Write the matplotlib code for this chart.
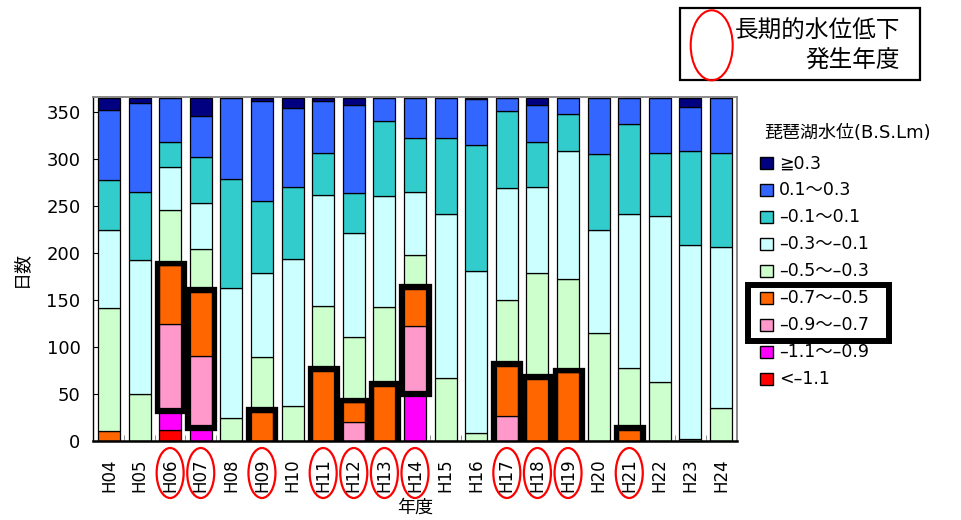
import matplotlib
matplotlib.use('Agg')
import matplotlib.pyplot as plt
import numpy as np
from matplotlib.patches import Rectangle, Ellipse

plt.rcParams['font.family'] = ['DejaVu Sans', 'Noto Sans CJK JP']

# --- data (days per lake-level class, Lake Biwa B.S.L. m) ---
years = ['H04', 'H05', 'H06', 'H07', 'H08', 'H09', 'H10', 'H11', 'H12', 'H13', 'H14',
         'H15', 'H16', 'H17', 'H18', 'H19', 'H20', 'H21', 'H22', 'H23', 'H24']
lt_m11 = [0, 0, 12, 0, 0, 0, 0, 0, 0, 0, 0, 0, 0, 0, 0, 0, 0, 0, 0, 0, 0]
m11_m09 = [0, 0, 23, 17, 0, 0, 0, 0, 0, 0, 53, 0, 0, 0, 0, 0, 0, 0, 0, 0, 0]
m09_m07 = [0, 0, 89, 73, 0, 0, 0, 0, 20, 0, 69, 0, 0, 27, 0, 0, 0, 0, 0, 0, 0]
m07_m05 = [11, 0, 63, 69, 0, 31, 0, 75, 21, 59, 40, 0, 0, 53, 66, 73, 0, 12, 0, 0, 0]
m05_m03 = [131, 50, 59, 45, 25, 58, 37, 69, 70, 84, 36, 67, 9, 70, 113, 99, 115, 66, 63, 2, 35]
m03_m01 = [82, 143, 45, 49, 138, 90, 157, 118, 110, 118, 67, 174, 172, 119, 91, 137, 110, 164, 176, 207, 171]
m01_p01 = [54, 72, 27, 49, 116, 76, 76, 44, 43, 79, 57, 81, 134, 82, 48, 39, 80, 95, 67, 100, 100]
p01_p03 = [74, 95, 47, 44, 86, 107, 84, 56, 94, 25, 43, 43, 49, 14, 39, 17, 60, 28, 59, 46, 59]
ge_p03 = [13, 5, 0, 19, 0, 3, 11, 3, 7, 0, 0, 0, 1, 0, 8, 0, 0, 0, 0, 10, 0]

labels = ['<–1.1', '–1.1〜–0.9', '–0.9〜–0.7', '–0.7〜–0.5', '–0.5〜–0.3',
          '–0.3〜–0.1', '–0.1〜0.1', '0.1〜0.3', '≧0.3']
colors = ['#FF0000', '#FF00FF', '#FF99CC', '#FF6600', '#CCFFCC',
          '#CCFFFF', '#33CCCC', '#3366FF', '#000080']
series = [lt_m11, m11_m09, m09_m07, m07_m05, m05_m03, m03_m01, m01_p01, p01_p03, ge_p03]

# years with long-term low water level
low_years = ['H06', 'H07', 'H09', 'H11', 'H12', 'H13', 'H14', 'H17', 'H18', 'H19', 'H21']

W, H = 961, 520
fig = plt.figure(figsize=(W / 100, H / 100), dpi=100)
ax = fig.add_axes([93 / W, 1 - 441 / H, (737 - 93) / W, (441 - 97) / H])

x = np.arange(len(years))
width = 0.72
bottom = np.zeros(len(years))
for vals, col in zip(series, colors):
    vals = np.array(vals, dtype=float)
    ax.bar(x, vals, width, bottom=bottom, color=col, edgecolor='black', linewidth=0.9, zorder=2)
    bottom += vals

ax.set_xlim(-0.52, len(years) - 0.48)
ax.set_ylim(0, 366)

# thick boxes around the -0.9 ~ -0.5 part of low years
pad_x = 2.5 / 30.6
pad_y = 2.7
lo = np.array(lt_m11) + np.array(m11_m09)
hi = lo + np.array(m09_m07) + np.array(m07_m05)
for yr in low_years:
    i = years.index(yr)
    ax.add_patch(Rectangle((i - width / 2 - pad_x, lo[i] - pad_y), width + 2 * pad_x,
                           hi[i] - lo[i] + 2 * pad_y, fill=False, edgecolor='black',
                           linewidth=3.8, zorder=4, joinstyle='miter'))

# axes styling
ax.set_yticks(np.arange(0, 351, 50))
ax.tick_params(axis='y', direction='in', length=4, labelsize=13, pad=9)
ax.set_xticks(x)
ax.set_xticklabels(years, rotation=90, fontsize=12)
ax.tick_params(axis='x', length=0, pad=12.5)
ax.set_xticks(np.arange(0.5, len(years) - 1, 1), minor=True)
ax.tick_params(axis='x', which='minor', direction='in', length=4, color='#808080')
for s in ['top', 'right']:
    ax.spines[s].set_color('#808080')
    ax.spines[s].set_linewidth(1.3)
ax.spines['left'].set_linewidth(1.0)
ax.spines['bottom'].set_linewidth(1.8)
ax.set_xlabel('年度', fontsize=13)
ax.xaxis.set_label_coords(0.5, (441 - 499) / 344)
ax.set_ylabel('日数', fontsize=13)
ax.yaxis.set_label_coords((30 - 93) / 644, 0.5)

# red ellipses around low-year tick labels
for yr in low_years:
    i = years.index(yr)
    ax.add_patch(Ellipse((i, (441 - 473) / 344), 27 / 30.6, 50 / 344,
                         transform=ax.get_xaxis_transform(), fill=False,
                         edgecolor='#FF0000', linewidth=1.6, clip_on=False))

# legend drawn by hand on the right
def fx(px):
    return px / W

def fy(py):
    return 1 - py / H

fig.text(fx(848), fy(133), '琵琶湖水位(B.S.Lm)', fontsize=13, ha='center', va='center')
for k, (lab, col) in enumerate(zip(labels[::-1], colors[::-1])):
    yc = 163.3 + k * 27.0
    fig.patches.append(Rectangle((fx(759.5), fy(yc + 6)), 13 / W, 12 / H, facecolor=col,
                                 edgecolor='black', linewidth=1.0, transform=fig.transFigure))
    fig.text(fx(779), fy(yc), lab, fontsize=12.5, ha='left', va='center')
fig.patches.append(Rectangle((fx(748), fy(340.5)), 141 / W, 56 / H, fill=False,
                             edgecolor='black', linewidth=4.3, transform=fig.transFigure,
                             joinstyle='miter'))

# top-right note box
fig.patches.append(Rectangle((fx(680), fy(80)), 240 / W, 72 / H, fill=False,
                             edgecolor='black', linewidth=1.6, transform=fig.transFigure))
fig.patches.append(Ellipse((fx(711.7), fy(45.3)), 42 / W, 70 / H, fill=False,
                           edgecolor='#FF0000', linewidth=1.5, transform=fig.transFigure))
fig.text(fx(900), fy(31), '長期的水位低下', fontsize=17, ha='right', va='center')
fig.text(fx(900), fy(60), '発生年度', fontsize=17, ha='right', va='center')

fig.savefig('out.png', dpi=100, facecolor='white')
